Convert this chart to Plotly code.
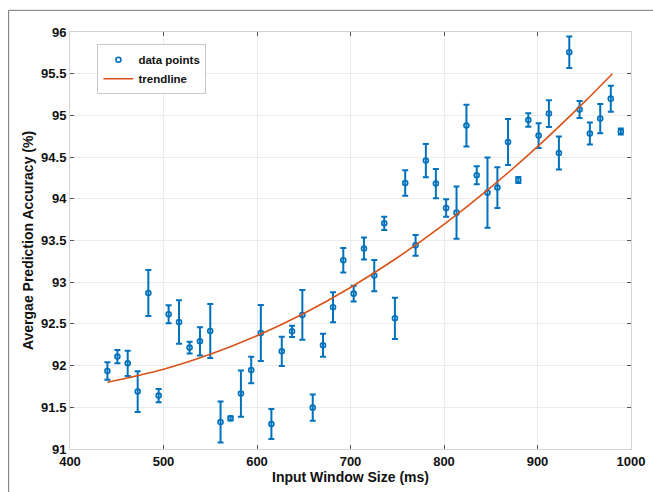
import plotly.graph_objects as go

# Data
window_ms = [440, 450.7, 461.7, 472.4, 483.8, 494.8, 505.5, 516.6, 527.9, 539,
             550, 561, 571.7, 582.8, 593.8, 604.1, 615.4, 626.5, 637.5, 648.5,
             659.6, 670.6, 681.3, 692.3, 703.4, 714.4, 725.4, 736.1, 747.5, 758.5,
             769.6, 780.6, 791.3, 802.3, 813.4, 824, 835, 846.5, 857.1, 868.5,
             879.5, 890.2, 901.2, 912.2, 922.9, 934, 945, 956, 967.1, 978.4, 989.1]
accuracy = [91.935, 92.108, 92.027, 91.688, 92.871, 91.64, 92.615, 92.523, 92.216, 92.291,
            92.415, 91.324, 91.368, 91.664, 91.947, 92.391, 91.3, 92.171, 92.411, 92.607,
            91.496, 92.243, 92.699, 93.263, 92.863, 93.403, 93.079, 93.706, 92.567, 94.189,
            93.442, 94.458, 94.182, 93.89, 93.834, 94.878, 94.282, 94.074, 94.134, 94.681,
            94.225, 94.945, 94.758, 95.022, 94.549, 95.757, 95.07, 94.782, 94.962, 95.201, 94.806]
acc_err = [0.105, 0.08, 0.152, 0.244, 0.276, 0.078, 0.108, 0.262, 0.07, 0.17,
           0.324, 0.246, 0.026, 0.276, 0.158, 0.336, 0.18, 0.176, 0.068, 0.298,
           0.156, 0.138, 0.18, 0.148, 0.094, 0.132, 0.188, 0.08, 0.248, 0.152,
           0.124, 0.2, 0.176, 0.106, 0.312, 0.25, 0.108, 0.42, 0.244, 0.276,
           0.036, 0.082, 0.148, 0.16, 0.198, 0.188, 0.102, 0.132, 0.176, 0.156, 0.036]

trend_x = [440, 500, 550, 600, 650, 700, 750, 800, 850, 900, 950, 980]
trend_y = [91.80, 91.956, 92.135, 92.358, 92.625, 92.937, 93.293, 93.693, 94.137, 94.626, 95.159, 95.50]

x_ticks = [400, 500, 600, 700, 800, 900, 1000]
y_ticks = [91, 91.5, 92, 92.5, 93, 93.5, 94, 94.5, 95, 95.5, 96]

W, H = 653, 492
L, R, T, B = 69.5, 21.5, 31.7, 43
pw, ph = W - L - R, H - T - B

def px(xp):
    return (xp - L) / pw

def py(yp):
    return (H - B - yp) / ph

BLUE = "#0072BD"
ORANGE = "#D95319"
FONT = "Liberation Sans, Arial, Helvetica, sans-serif"

fig = go.Figure()
fig.add_trace(go.Scatter(
    x=window_ms, y=accuracy, mode="markers", name="<b>data points</b>",
    marker=dict(symbol="circle-open", size=5, color=BLUE, line=dict(width=1.6, color=BLUE)),
    error_y=dict(type="data", array=acc_err, visible=True, color=BLUE, thickness=2, width=3),
))
fig.add_trace(go.Scatter(
    x=trend_x, y=trend_y, mode="lines", name="<b>trendline</b>",
    line=dict(color=ORANGE, width=1.6, shape="spline"),
))

axis_common = dict(
    showgrid=True, gridcolor="#ebebeb", gridwidth=1,
    showline=True, linecolor="#d4d4d4", linewidth=1, mirror="ticks",
    ticks="inside", ticklen=4, tickcolor="#555555", tickwidth=1,
    zeroline=False, automargin=False, ticklabeloverflow="allow",
    tickfont=dict(family=FONT, size=13, color="#111111"),
)

fig.update_layout(
    width=W, height=H,
    margin=dict(l=L, r=R, t=T, b=B, autoexpand=False),
    paper_bgcolor="white", plot_bgcolor="white",
    font=dict(family=FONT, color="#111111"),
    xaxis=dict(range=[400, 1000], tickvals=x_ticks,
               ticktext=["<b>%d</b>" % v for v in x_ticks],
               title=dict(text="<b>Input Window Size (ms)</b>", font=dict(size=14, family=FONT), standoff=3),
               **axis_common),
    yaxis=dict(range=[91, 96], tickvals=y_ticks,
               ticktext=["<b>%g</b>" % v for v in y_ticks],
               title=dict(text="<b>Avergae Prediction Accuracy (%)</b>", font=dict(size=14, family=FONT), standoff=4),
               **axis_common),
    showlegend=True,
    legend=dict(x=px(97), y=py(44), xanchor="left", yanchor="top",
                bgcolor="white", bordercolor="#c8c8c8", borderwidth=1,
                font=dict(family=FONT, size=11.5, color="#111111"),
                itemwidth=30, tracegroupgap=0),
    shapes=[
        dict(type="line", xref="paper", yref="paper", x0=px(8), x1=px(W + 5), y0=py(10), y1=py(10),
             line=dict(color="#777777", width=1)),
        dict(type="line", xref="paper", yref="paper", x0=px(8), x1=px(8), y0=py(10), y1=py(H + 5),
             line=dict(color="#777777", width=1)),
    ],
)

fig.write_html("out.html", config={"displayModeBar": False})

# remove the browser's default body margin so the figure sits at the page origin
with open("out.html", "r", encoding="utf-8") as f:
    html = f.read()
html = html.replace("<head>", "<head><style>html,body{margin:0;padding:0;overflow:hidden;}</style>", 1)
with open("out.html", "w", encoding="utf-8") as f:
    f.write(html)
